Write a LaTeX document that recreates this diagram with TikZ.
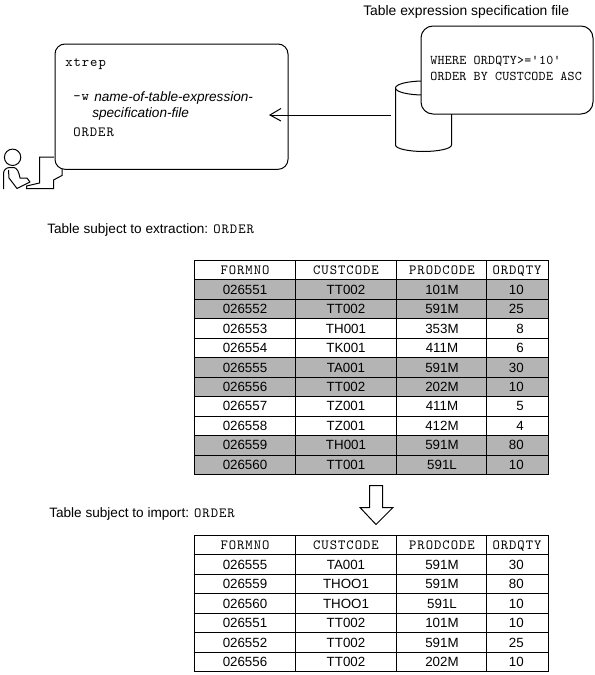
\documentclass[tikz,border=0pt]{standalone}
\usepackage{fontspec}
\setmainfont{Liberation Sans}
\newfontfamily\wideMono[LetterSpace=7]{Latin Modern Mono}
\newfontfamily\narrowMono[LetterSpace=2]{Latin Modern Mono}
\definecolor{rowgray}{HTML}{B4B4B4}
\tikzset{
  px/.style={x=0.75pt,y=-0.75pt},
  line/.style={draw=black,line width=0.75pt},
  roundbox/.style={line,fill=white,rounded corners=7.5pt,anchor=north west,inner sep=0pt},
  label/.style={anchor=west,inner sep=0pt,font=\fontsize{10.2}{12}\selectfont},
  monolabel/.style={anchor=west,inner sep=0pt,font=\wideMono\fontsize{10.5}{12}\selectfont},
  sqllabel/.style={anchor=west,inner sep=0pt,font=\narrowMono\fontsize{10}{12}\selectfont},
  cell/.style={inner sep=0pt,font=\fontsize{10}{12}\selectfont},
  headcell/.style={inner sep=0pt,text height=7pt,text depth=0pt,font=\wideMono\fontsize{10.5}{12}\selectfont},
}
\newcommand{\tablegrid}[2]{% top, rows
  \pgfmathsetmacro{\tbot}{#1+#2*19.45}
  \draw[line] (194.5,#1) rectangle (548.5,\tbot);
  \foreach \cx in {295.5,396.5,486.5} \draw[line] (\cx,#1) -- (\cx,\tbot);
  \foreach \rr in {1,...,#2} {
    \pgfmathsetmacro{\ty}{#1+\rr*19.45}
    \ifnum\rr<#2 \draw[line] (194.5,\ty) -- (548.5,\ty);\fi
  }
}
\newcommand{\tablerow}[7]{% name, top, row, four cells
  \pgfmathsetmacro{\cy}{#2+(#3+0.5)*19.45}
  \node[cell] (#1a) at (245,\cy) {#4};
  \node[cell] (#1b) at (346,\cy) {#5};
  \node[cell] (#1c) at (442,\cy) {#6};
  \node[cell,anchor=east] (#1d) at (524,\cy) {#7};
}
\newcommand{\tablehead}[2]{% name, top
  \pgfmathsetmacro{\cy}{#2+9.7}
  \node[headcell] (#1a) at (245,\cy) {FORMNO};
  \node[headcell] (#1b) at (346,\cy) {CUSTCODE};
  \node[headcell] (#1c) at (442,\cy) {PRODCODE};
  \node[headcell] (#1d) at (517,\cy) {ORDQTY};
}
\newcommand{\grayrow}[2]{% top,row
  \pgfmathsetmacro{\ya}{#1+#2*19.45}
  \pgfmathsetmacro{\yb}{#1+(#2+1)*19.45}
  \fill[rowgray] (194.5,\ya) rectangle (548.5,\yb);
}
\begin{document}
\begin{tikzpicture}[px]
\useasboundingbox (0,0) rectangle (595,675);
% person
\draw[line] (12.6,157.3) circle (8.2);
\draw[line,line join=round] (3.5,189) -- (3.5,174) .. controls (3.5,170) and (6,167.5) .. (10,167.5)
  -- (14,167.5) .. controls (17,168) and (19,172) .. (20,178) -- (27,178) -- (30,182) -- (17,188.5) -- (9,178) -- (8.5,170);
% terminal
\draw[line] (54,157) -- (39.5,157) -- (39.5,183) -- (26.5,186) -- (26.5,188.5) -- (53.5,188.5) -- (53.5,180) -- (62,175.5) -- (62,165);
% xtrep command box
\node[roundbox,minimum width=174.75pt,minimum height=94pt] (cmd) at (54.5,43.5) {};
\node[monolabel] (cmdname) at (65,64.5) {xtrep};
\node[monolabel] (opt) at (73,97.5) {-w};
\node[label] (optarg) at (94,97.5) {\itshape name-of-table-expression-};
\node[label] (optargb) at (92,114) {\itshape specification-file};
\node[monolabel] (tblname) at (73,132) {ORDER};
% cylinder
\coordinate (cylL) at (395.5,88);
\coordinate (cylR) at (451.5,88);
\draw[line,fill=white] (395.5,88) -- (395.5,145) .. controls (395.5,149) and (410,151.5) .. (423.5,151.5)
  .. controls (437,151.5) and (451.5,149) .. (451.5,145) -- (451.5,88);
\draw[line] (423.5,88) ellipse (28 and 7);
% sql box
\node[roundbox,rounded corners=9pt,minimum width=129pt,minimum height=66pt] (sql) at (420.5,25.5) {};
\node[sqllabel] (sqla) at (430,61) {WHERE ORDQTY>='10'};
\node[sqllabel] (sqlb) at (430,76) {ORDER BY CUSTCODE ASC};
\node[label,font=\fontsize{10.4}{12}\selectfont] (filecap) at (363,12) {Table expression specification file};
% arrow
\coordinate (arrS) at (391,115);
\coordinate (arrE) at (270,115);
\draw[line] (arrS) -- (arrE);
\draw[line] (281,108.5) -- (arrE) -- (281,121);
% labels
\node[label] (capa) at (47,229.5) {Table subject to extraction: {\wideMono\fontsize{10.5}{12}\selectfont ORDER}};
\node[label] (capb) at (49,514) {Table subject to import: {\wideMono\fontsize{10.5}{12}\selectfont ORDER}};
% first table
\foreach \g in {1,2,5,6,9,10} {\grayrow{260.5}{\g}}
\tablegrid{260.5}{11}
\tablehead{h}{260.5}
\tablerow{a}{260.5}{1}{026551}{TT002}{101M}{10}
\tablerow{b}{260.5}{2}{026552}{TT002}{591M}{25}
\tablerow{c}{260.5}{3}{026553}{TH001}{353M}{8}
\tablerow{d}{260.5}{4}{026554}{TK001}{411M}{6}
\tablerow{e}{260.5}{5}{026555}{TA001}{591M}{30}
\tablerow{f}{260.5}{6}{026556}{TT002}{202M}{10}
\tablerow{g}{260.5}{7}{026557}{TZ001}{411M}{5}
\tablerow{i}{260.5}{8}{026558}{TZ001}{412M}{4}
\tablerow{j}{260.5}{9}{026559}{TH001}{591M}{80}
\tablerow{k}{260.5}{10}{026560}{TT001}{591L}{10}
% block arrow
\draw[line,fill=white,line join=miter] (369.5,485.5) -- (382.5,485.5) -- (382.5,507.5) -- (393,507.5) -- (376,524.5) -- (360,507.5) -- (369.5,507.5) -- cycle;
% second table
\tablegrid{535.5}{7}
\tablehead{m}{535.5}
\tablerow{n}{535.5}{1}{026555}{TA001}{591M}{30}
\tablerow{o}{535.5}{2}{026559}{THOO1}{591M}{80}
\tablerow{p}{535.5}{3}{026560}{THOO1}{591L}{10}
\tablerow{q}{535.5}{4}{026551}{TT002}{101M}{10}
\tablerow{r}{535.5}{5}{026552}{TT002}{591M}{25}
\tablerow{s}{535.5}{6}{026556}{TT002}{202M}{10}
\end{tikzpicture}
\end{document}
